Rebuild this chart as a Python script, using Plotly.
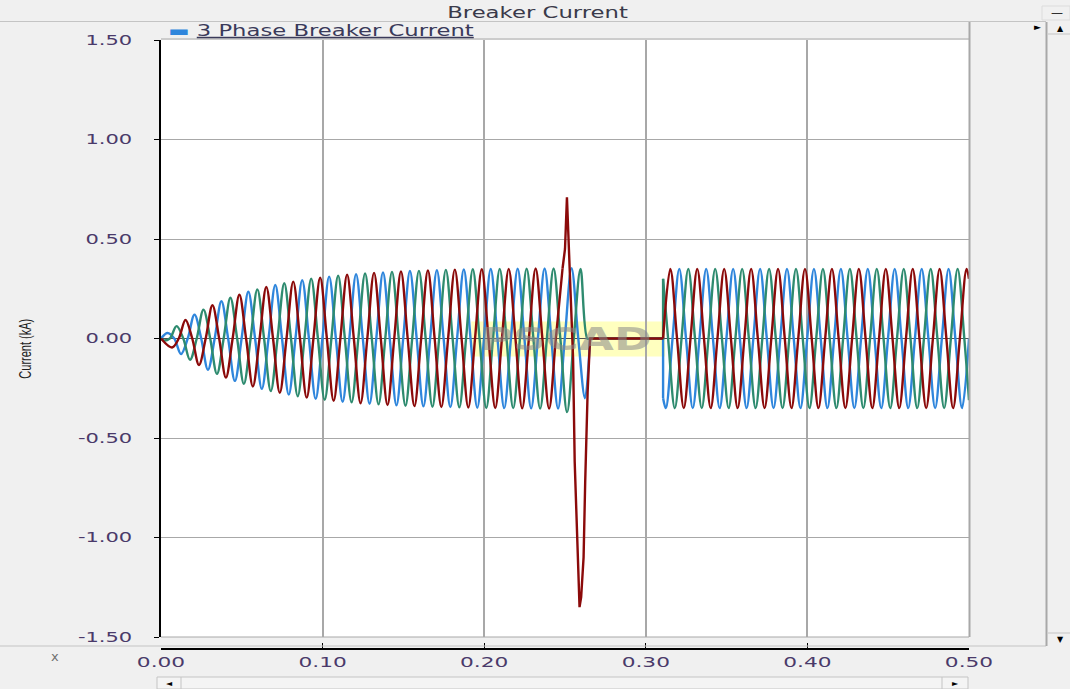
import plotly.graph_objects as go

# ------------------------------------------------------------------
# DATA
# ------------------------------------------------------------------
HALF = 1.0 / 120.0          # half cycle of the 60 Hz waveforms (s)
x_ticks = [0.0, 0.1, 0.2, 0.3, 0.4, 0.5]
y_ticks = [-1.5, -1.0, -0.5, 0.0, 0.5, 1.0, 1.5]

# energisation part (0 s .. fault), signed half-cycle peak values (kA)
blue_seg1_first = 0.00405
blue_seg1_peaks = [0.028, -0.078, 0.120, -0.157, 0.187, -0.213, 0.235, -0.253,
                   0.269, -0.282, 0.293, -0.303, 0.311, -0.318, 0.323, -0.328,
                   0.332, -0.336, 0.339, -0.341, 0.343, -0.345, 0.347, -0.348,
                   0.349, -0.350, 0.351, -0.351, 0.352, -0.352, 0.353, -0.300]
blue_seg1_tail_t = [0.2655]
blue_seg1_tail_v = [0.0]

green_seg1_first = 0.00128
green_seg1_peaks = [-0.009, 0.062, -0.107, 0.145, -0.178, 0.205, -0.228, 0.247,
                    -0.264, 0.278, -0.290, 0.300, -0.308, 0.315, -0.321, 0.327,
                    -0.331, 0.335, -0.338, 0.340, -0.343, 0.345, -0.346, 0.348,
                    -0.349, 0.350, -0.350, 0.351, -0.352, 0.352, -0.370, 0.350]
green_seg1_tail_t = [0.2638, 0.2655]
green_seg1_tail_v = [0.0, 0.0]

red_seg1_first = 0.00683
red_seg1_peaks = [-0.045, 0.093, -0.133, 0.167, -0.196, 0.220, -0.241, 0.259,
                  -0.273, 0.286, -0.297, 0.305, -0.313, 0.320, -0.325, 0.330,
                  -0.334, 0.337, -0.340, 0.342, -0.344, 0.346, -0.347, 0.348,
                  -0.349, 0.350, -0.351, 0.352, -0.352, 0.353]

# fault transient on the red phase and breaker-open interval
red_fault_t = [0.2485, 0.2500, 0.2512, 0.2522, 0.2535, 0.2550, 0.2560, 0.2575,
               0.2590, 0.2600, 0.2615, 0.2625, 0.2640, 0.2655, 0.3107]
red_fault_v = [0.353, 0.45, 0.71, 0.50, 0.30, -0.10, -0.62, -1.00,
               -1.35, -1.30, -1.10, -0.72, -0.27, 0.0, 0.0]
blue_gap_t = [0.2655, 0.3107, 0.3107]
blue_gap_v = [0.0, 0.0, -0.30]
green_gap_t = [0.2655, 0.3107, 0.3107]
green_gap_v = [0.0, 0.0, 0.30]

# re-closed part (0.31 s .. 0.50 s)
blue_seg2_head_t = [0.3107]
blue_seg2_head_v = [-0.30]
blue_seg2_first = 0.31238
blue_seg2_peaks = [-0.35, 0.35, -0.35, 0.35, -0.35, 0.35, -0.35, 0.35, -0.35,
                   0.35, -0.35, 0.35, -0.35, 0.35, -0.35, 0.35, -0.35, 0.35,
                   -0.35, 0.35, -0.35, 0.35, -0.35]
blue_seg2_tail_t = [0.5]
blue_seg2_tail_v = [0.0]

green_seg2_head_t = [0.3107, 0.3138]
green_seg2_head_v = [0.30, 0.0]
green_seg2_first = 0.31795
green_seg2_peaks = [-0.35, 0.35, -0.35, 0.35, -0.35, 0.35, -0.35, 0.35, -0.35,
                    0.35, -0.35, 0.35, -0.35, 0.35, -0.35, 0.35, -0.35, 0.35,
                    -0.35, 0.35, -0.35, 0.35]
green_seg2_tail_t = [0.4971, 0.5]
green_seg2_tail_v = [0.0, -0.31]

red_seg2_head_t = [0.3107]
red_seg2_head_v = [0.0]
red_seg2_first = 0.31517
red_seg2_peaks = [0.35, -0.35, 0.35, -0.35, 0.35, -0.35, 0.35, -0.35, 0.35,
                  -0.35, 0.35, -0.35, 0.35, -0.35, 0.35, -0.35, 0.35, -0.35,
                  0.35, -0.35, 0.35, -0.35, 0.35]
red_seg2_tail_t = [0.5]
red_seg2_tail_v = [0.30]

# ------------------------------------------------------------------
BLUE, GREEN, RED = "#2f86dc", "#2e8b6f", "#8b0a0a"
LBL = "#4a3a6a"
FONT = "DejaVu Sans"


def wave(head_t, head_v, first, peaks, tail_t, tail_v):
    ts, vs = list(head_t), list(head_v)
    for i, p in enumerate(peaks):
        tp = first + i * HALF
        if i > 0:
            ts.append(tp - HALF / 2)
            vs.append(0.0)
        ts.append(tp)
        vs.append(p)
    return ts + list(tail_t), vs + list(tail_v)


fig = go.Figure()


def add(t, v, color, shape, xaxis="x", name="3 Phase Breaker Current"):
    fig.add_trace(go.Scatter(x=t, y=v, mode="lines", xaxis=xaxis,
                             line=dict(color=color, width=2.4, shape=shape,
                                       smoothing=1.0 if shape == "spline" else None),
                             name=name, showlegend=False, hoverinfo="skip"))


# blue phase
t, v = wave([0.0], [0.0], blue_seg1_first, blue_seg1_peaks, blue_seg1_tail_t, blue_seg1_tail_v)
add(t, v, BLUE, "spline")
add(blue_gap_t, blue_gap_v, BLUE, "linear")
t, v = wave(blue_seg2_head_t, blue_seg2_head_v, blue_seg2_first, blue_seg2_peaks,
            blue_seg2_tail_t, blue_seg2_tail_v)
add(t, v, BLUE, "spline")
# green phase
t, v = wave([0.0], [0.0], green_seg1_first, green_seg1_peaks, green_seg1_tail_t, green_seg1_tail_v)
add(t, v, GREEN, "spline")
add(green_gap_t, green_gap_v, GREEN, "linear")
t, v = wave(green_seg2_head_t, green_seg2_head_v, green_seg2_first, green_seg2_peaks,
            green_seg2_tail_t, green_seg2_tail_v)
add(t, v, GREEN, "spline")
# red phase
t, v = wave([0.0], [0.0], red_seg1_first, red_seg1_peaks, [], [])
add(t, v, RED, "spline")
t, v = wave(red_seg2_head_t, red_seg2_head_v, red_seg2_first, red_seg2_peaks,
            red_seg2_tail_t, red_seg2_tail_v)
add(t, v, RED, "spline")
add(red_fault_t, red_fault_v, RED, "linear", xaxis="x2")

# ------------------------------------------------------------------
W, H = 1070, 689
L, R, T, B = 161, 1070 - 969, 40, 36
PW, PH = W - L - R, H - T - B


def px(x):
    return (x - L) / PW


def py(y):
    return (H - B - y) / PH


GRAY = "#a8a8a8"
CHROME = "#c4c4c4"
shapes = [
    # watermark glow
    dict(type="rect", xref="x", yref="y", x0=0.192, x1=0.312, y0=-0.09, y1=0.085,
         fillcolor="rgba(255,255,170,0.75)", line=dict(width=0), layer="below"),
    # plot frame (top / bottom / right)
    dict(type="line", xref="paper", yref="paper", x0=0, x1=1, y0=py(637), y1=py(637),
         line=dict(color=GRAY, width=1)),
    dict(type="line", xref="paper", yref="paper", x0=0, x1=px(969), y0=py(39), y1=py(39),
         line=dict(color=GRAY, width=1)),
    dict(type="line", xref="paper", yref="paper", x0=px(969.5), x1=px(969.5), y0=py(637), y1=py(22),
         line=dict(color=GRAY, width=2)),
    # title bar separator
    dict(type="line", xref="paper", yref="paper", x0=px(0), x1=px(1046), y0=py(21.5), y1=py(21.5),
         line=dict(color=CHROME, width=1)),
    # bottom separator
    dict(type="line", xref="paper", yref="paper", x0=px(0), x1=px(1046), y0=py(646), y1=py(646),
         line=dict(color=CHROME, width=1)),
    # vertical scrollbar
    dict(type="line", xref="paper", yref="paper", x0=px(1046.5), x1=px(1046.5), y0=py(646), y1=py(22),
         line=dict(color=GRAY, width=2)),
    dict(type="line", xref="paper", yref="paper", x0=px(1048), x1=px(1070), y0=py(34), y1=py(34),
         line=dict(color=CHROME, width=1)),
    dict(type="line", xref="paper", yref="paper", x0=px(1048), x1=px(1070), y0=py(633), y1=py(633),
         line=dict(color=CHROME, width=1)),
    # minimise button
    dict(type="rect", xref="paper", yref="paper", x0=px(1042), x1=px(1070), y0=py(20), y1=py(6),
         fillcolor="#f0f0f0", line=dict(color="#dcdcdc", width=1)),
    # horizontal scrollbar
    dict(type="rect", xref="paper", yref="paper", x0=px(157), x1=px(968), y0=py(689), y1=py(677),
         fillcolor="#f4f4f4", line=dict(color=CHROME, width=1)),
    dict(type="line", xref="paper", yref="paper", x0=px(181), x1=px(181), y0=py(689), y1=py(677),
         line=dict(color=CHROME, width=1)),
    dict(type="line", xref="paper", yref="paper", x0=px(942), x1=px(942), y0=py(689), y1=py(677),
         line=dict(color=CHROME, width=1)),
]


def note(text, x, y, size, color="#000", family=FONT, **kw):
    d = dict(text=text, xref="paper", yref="paper", x=px(x), y=py(y), showarrow=False,
             xanchor="center", yanchor="middle",
             font=dict(family=family, size=size, color=color))
    d.update(kw)
    return d


annotations = [
    note("Breaker Current", 537, 13, 15, "#3a3a4a"),
    note("<span style='color:%s'>▬</span> <u>3 Phase Breaker Current</u>" % BLUE,
         166, 31, 15, "#3a3a5a", xanchor="left"),
    note("Current (kA)", 25, 349, 17, "#202020",
         family="Liberation Sans Narrow, Liberation Sans", textangle=-90),
    note("x", 55, 656, 13, "#707070"),
    note("►", 1037, 27, 9),
    note("▲", 1060, 28, 8),
    note("▼", 1060, 639, 8),
    note("—", 1057, 13, 12, "#303030"),
    note("◄", 169, 683, 8),
    note("►", 955, 683, 8),
    dict(text="PSCAD", xref="x", yref="y", x=0.25, y=0.0, showarrow=False, opacity=0.55,
         xanchor="center", yanchor="middle",
         font=dict(family=FONT, size=32, color="#8a8a8a", weight="bold")),
]

fig.update_layout(
    width=W, height=H, margin=dict(l=L, r=R, t=T, b=B),
    paper_bgcolor="#f0f0f0", plot_bgcolor="#ffffff",
    showlegend=False, shapes=shapes, annotations=annotations,
    xaxis=dict(range=[0, 0.5], tickvals=x_ticks, showticklabels=False, ticks="",
               showgrid=True, gridcolor=GRAY, gridwidth=2, zeroline=False, showline=False,
               fixedrange=True),
    xaxis2=dict(range=[0, 0.5], overlaying="x", anchor="free", position=py(649),
                tickvals=x_ticks, ticktext=["%.2f" % v for v in x_ticks],
                ticks="inside", ticklen=5, tickwidth=1, tickcolor="#000",
                showline=True, linecolor="#000", linewidth=1.5, showgrid=False,
                zeroline=False, tickfont=dict(family=FONT, size=14, color=LBL),
                fixedrange=True),
    yaxis=dict(range=[-1.5, 1.5], domain=[py(637), 1], tickvals=y_ticks,
               ticktext=["%.2f" % v for v in y_ticks],
               ticks="outside", ticklen=5, tickcolor="#000", ticklabelstandoff=19,
               showline=True, linecolor="#000", linewidth=2,
               showgrid=True, gridcolor=GRAY, gridwidth=1,
               zeroline=True, zerolinecolor="#505050", zerolinewidth=1,
               tickfont=dict(family=FONT, size=14, color=LBL), fixedrange=True),
)

# page styling: no body margin, and horizontally stretched lettering like the
# original (wide-screen) capture
post = """
document.body.style.margin = '0';
document.body.style.background = '#f0f0f0';
var gd = document.getElementById('{plot_id}');
function stretch(e, s, mode) {
  var b = e.getBBox();
  var cx = mode === 'left' ? b.x : (mode === 'right' ? b.x + b.width : b.x + b.width / 2);
  var t = e.getAttribute('transform') || '';
  e.setAttribute('transform', t + ' translate(' + cx + ',0) scale(' + s + ',1) translate(' + (-cx) + ',0)');
}
gd.querySelectorAll('.annotation-text').forEach(function (e) {
  var s = e.textContent, w = e.getBBox().width;
  if (s.indexOf('Phase') >= 0) { stretch(e, 306 / w, 'left'); }
  else if (s.indexOf('Breaker') >= 0) { stretch(e, 181 / w, 'center'); }
  else if (s.indexOf('PSCAD') >= 0) { stretch(e, 172 / w, 'center'); }
  else if (s.indexOf('Current (kA)') >= 0) { stretch(e, 60 / w, 'center'); }
});
gd.querySelectorAll('g.x2tick text').forEach(function (e) { stretch(e, 1.55, 'center'); });
gd.querySelectorAll('g.ytick text').forEach(function (e) { stretch(e, 1.5, 'right'); });
"""

fig.write_html("out.html", post_script=post, config={"displayModeBar": False})
